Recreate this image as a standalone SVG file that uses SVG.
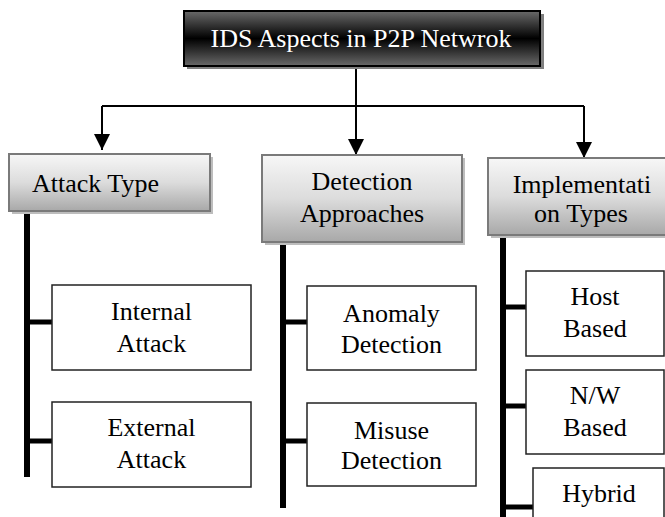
<svg xmlns="http://www.w3.org/2000/svg" width="665" height="517" viewBox="0 0 665 517">
<defs>
<linearGradient id="gDark" x1="0" y1="0" x2="0" y2="1">
<stop offset="0" stop-color="#6a6a6a"/>
<stop offset="0.5" stop-color="#000"/>
<stop offset="1" stop-color="#6a6a6a"/>
</linearGradient>
<linearGradient id="gLight" x1="0" y1="0" x2="0" y2="1">
<stop offset="0" stop-color="#f7f7f7"/>
<stop offset="0.5" stop-color="#dcdcdc"/>
<stop offset="1" stop-color="#a8a8a8"/>
</linearGradient>
<marker id="arr" viewBox="0 0 10 10" refX="10" refY="5" markerWidth="8" markerHeight="8" markerUnits="strokeWidth" orient="auto">
<path d="M0,0 L10,5 L0,10 Z" fill="#000"/>
</marker>
</defs>
<style>
text{font-family:"Liberation Serif","DejaVu Serif",serif;font-size:26px;fill:#000;}
.mid{text-anchor:middle;}
.title{fill:#fff;}
.shadowD{fill:#808080;}
.shadowL{fill:#bdbdbd;}
.head{fill:url(#gLight);stroke:#7a7a7a;stroke-width:2;}
.child{fill:#fff;stroke:#222;stroke-width:1.5;}
.conn{stroke:#000;stroke-width:2;fill:none;}
.trunk{stroke:#000;stroke-width:6;fill:none;}
.branch{stroke:#000;stroke-width:5;fill:none;}
</style>

<g id="connectors">
<path class="conn" d="M356,66 V106"/>
<path class="conn" d="M102,106 H584"/>
<path class="conn" d="M102,106 V150" marker-end="url(#arr)"/>
<path class="conn" d="M356,106 V155" marker-end="url(#arr)"/>
<path class="conn" d="M584,106 V158" marker-end="url(#arr)"/>
<path class="trunk" d="M27,211 V477"/>
<path class="branch" d="M27,322 H52"/>
<path class="branch" d="M27,441 H52"/>
<path class="trunk" d="M283,242 V508"/>
<path class="branch" d="M283,322 H307"/>
<path class="branch" d="M283,441 H307"/>
<path class="trunk" d="M503,235 V517"/>
<path class="branch" d="M503,307 H526"/>
<path class="branch" d="M503,406 H526"/>
<path class="branch" d="M503,507 H533"/>
</g>

<g id="root">
<rect class="shadowD" x="187" y="14" width="357" height="55"/>
<rect x="184" y="11" width="356" height="55" fill="url(#gDark)" stroke="#000" stroke-width="2"/>
<text class="mid title" x="361" y="47" font-family="Liberation Serif, DejaVu Serif, serif">IDS Aspects in P2P Netwrok</text>
</g>

<g id="attack-type">
<rect class="shadowL" x="12" y="157" width="201" height="57"/>
<rect class="head" x="9" y="154" width="201" height="57"/>
<text x="32" y="192">Attack Type</text>
</g>

<g id="detection-approaches">
<rect class="shadowL" x="265" y="158" width="200" height="87"/>
<rect class="head" x="262" y="155" width="200" height="87"/>
<text class="mid" x="362" y="190">Detection</text>
<text class="mid" x="362" y="222">Approaches</text>
</g>

<g id="implementation-types">
<rect class="shadowL" x="491" y="161" width="190" height="77"/>
<rect class="head" x="488" y="158" width="190" height="77"/>
<text class="mid" x="582" y="193">Implementati</text>
<text class="mid" x="581" y="222">on Types</text>
</g>

<g id="internal-attack">
<rect class="child" x="52" y="285" width="199" height="85"/>
<text class="mid" x="151.5" y="320">Internal</text>
<text class="mid" x="151.5" y="352">Attack</text>
</g>

<g id="external-attack">
<rect class="child" x="52" y="402" width="199" height="85"/>
<text class="mid" x="151.5" y="436">External</text>
<text class="mid" x="151.5" y="468">Attack</text>
</g>

<g id="anomaly-detection">
<rect class="child" x="307" y="286" width="169" height="84"/>
<text class="mid" x="391.5" y="322">Anomaly</text>
<text class="mid" x="391.5" y="353">Detection</text>
</g>

<g id="misuse-detection">
<rect class="child" x="307" y="403" width="169" height="83"/>
<text class="mid" x="391.5" y="439">Misuse</text>
<text class="mid" x="391.5" y="469">Detection</text>
</g>

<g id="host-based">
<rect class="child" x="526" y="271" width="138" height="85"/>
<text class="mid" x="595" y="305">Host</text>
<text class="mid" x="595" y="337">Based</text>
</g>

<g id="nw-based">
<rect class="child" x="526" y="370" width="138" height="84"/>
<text class="mid" x="595" y="404">N/W</text>
<text class="mid" x="595" y="436">Based</text>
</g>

<g id="hybrid">
<rect class="child" x="533" y="468" width="131" height="60"/>
<text class="mid" x="599" y="502">Hybrid</text>
</g>
</svg>
